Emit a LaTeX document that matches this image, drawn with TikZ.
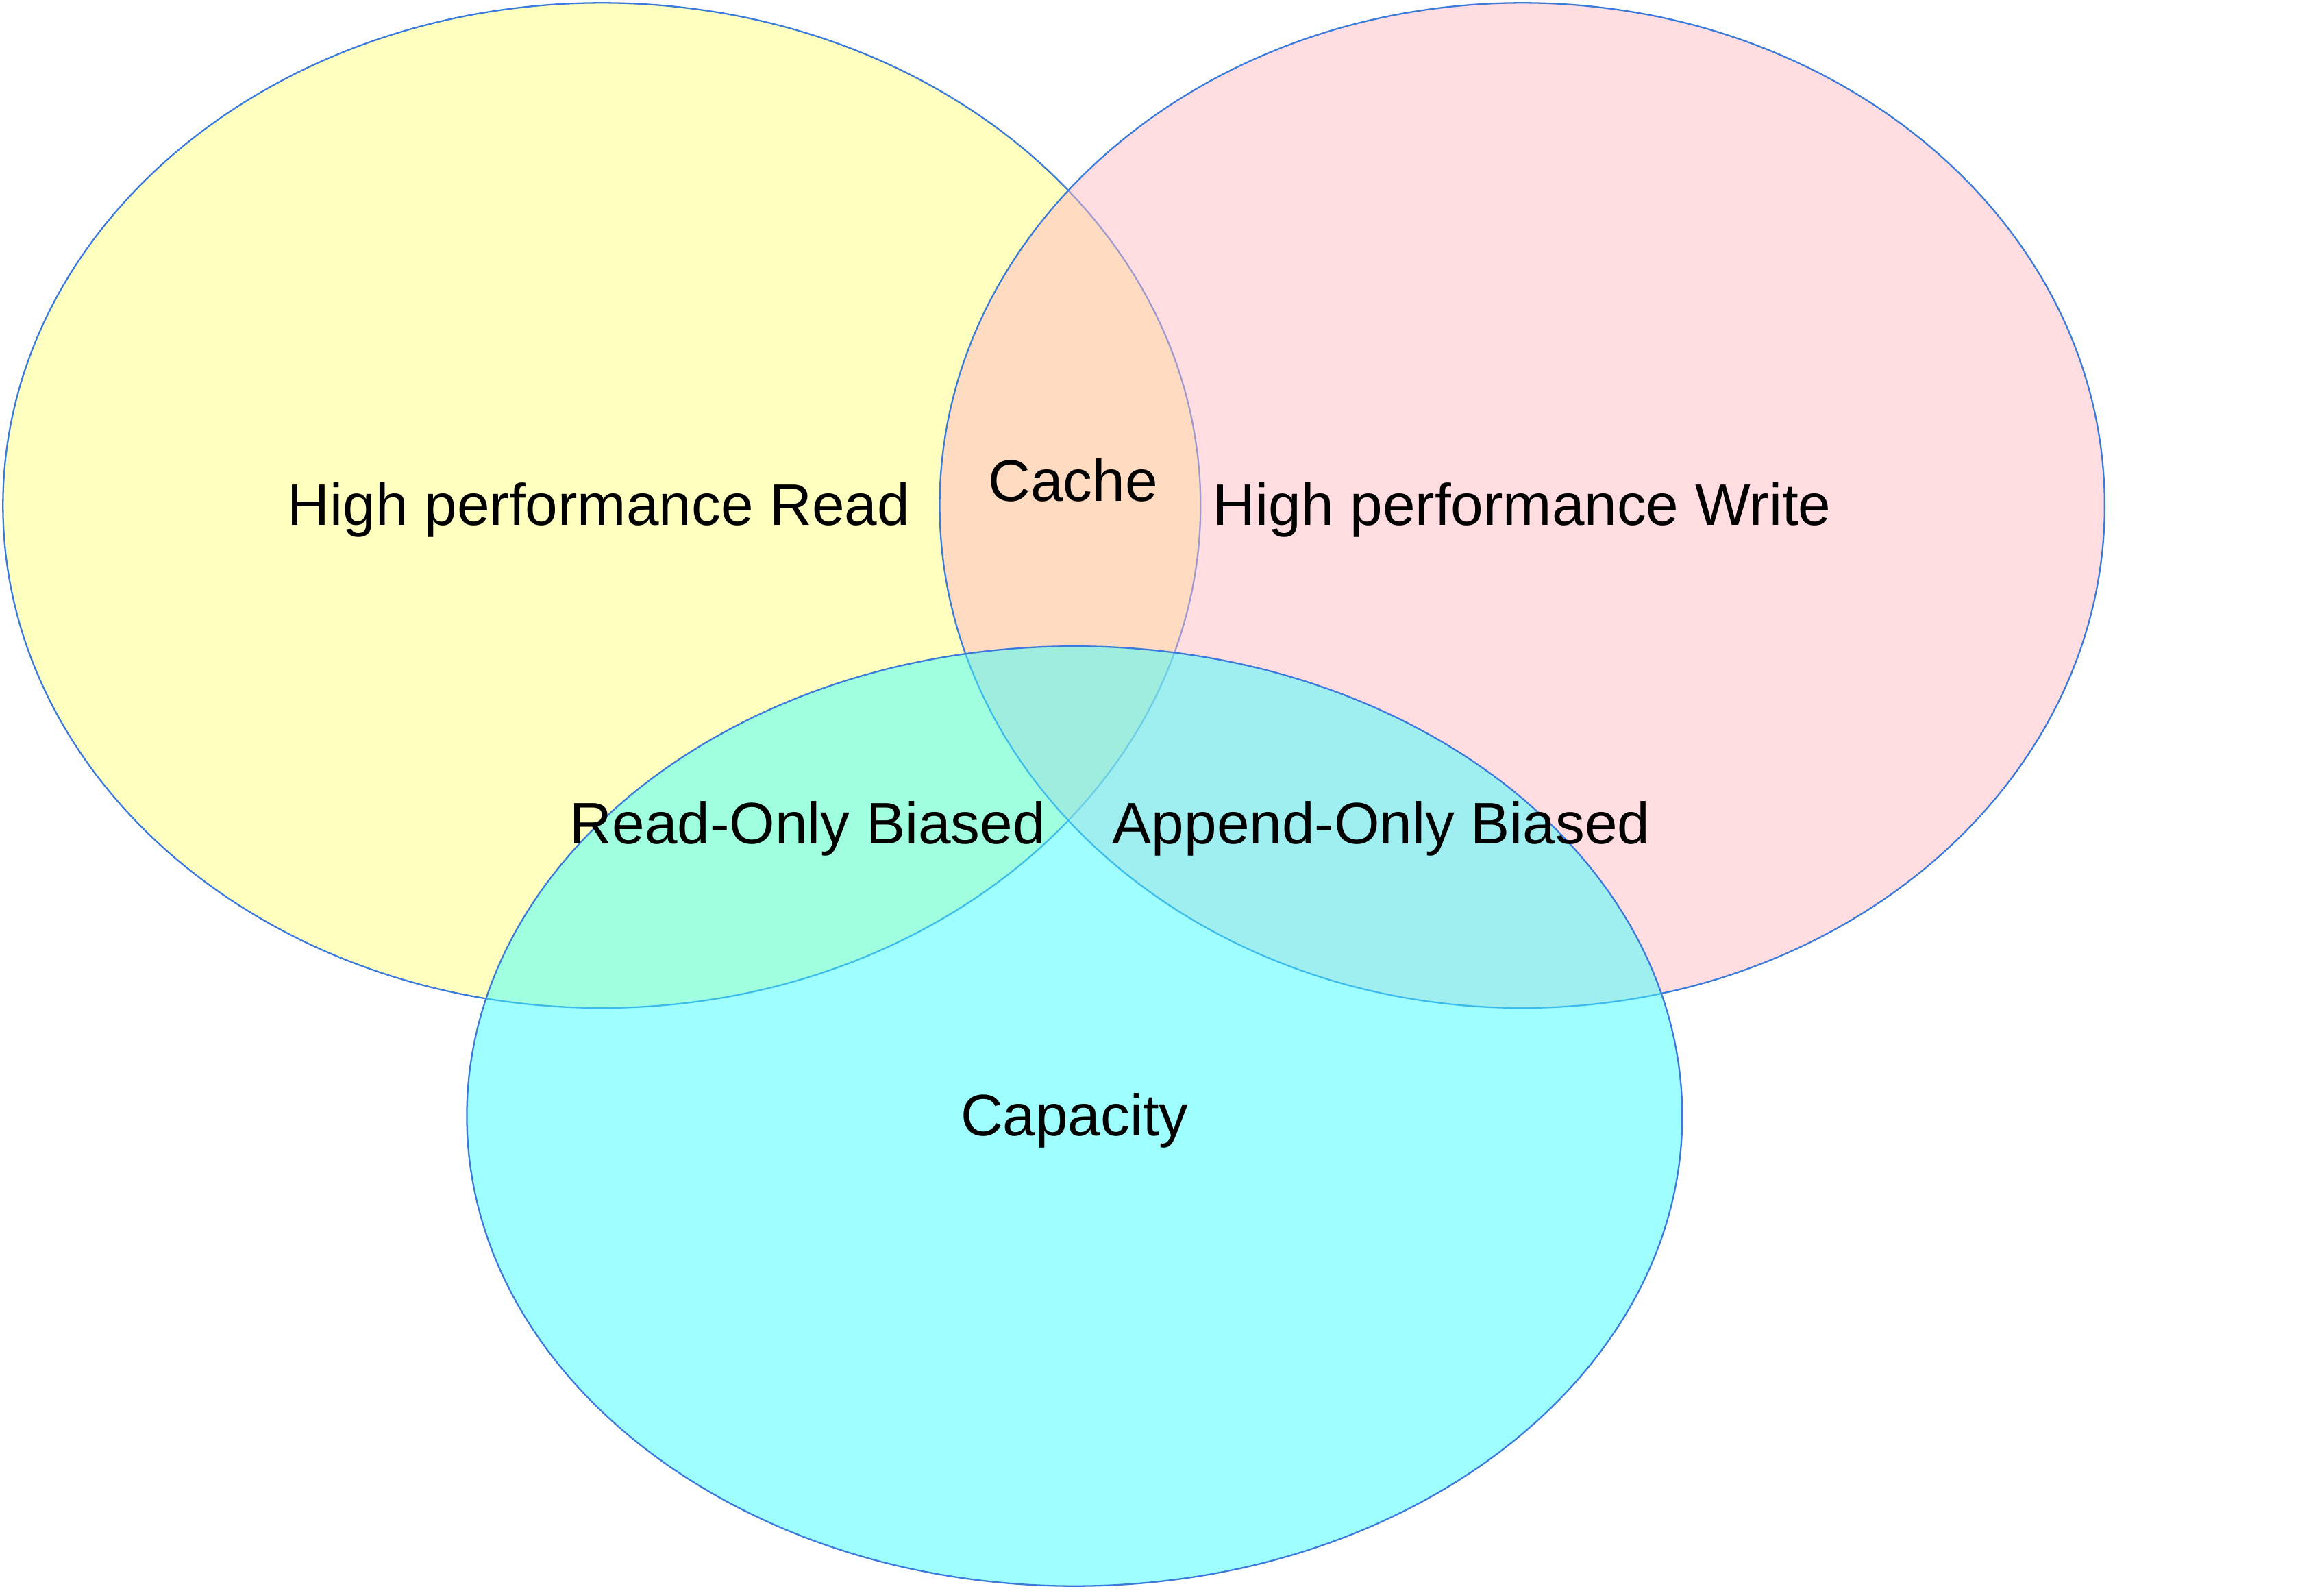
\documentclass[tikz,border=0pt]{standalone}
\usepackage{fontspec}
\setmainfont{Liberation Sans}
\usepackage{xcolor}
\definecolor{vnyellow}{RGB}{255,255,128}
\definecolor{vnpink}{RGB}{255,187,195}
\definecolor{vncyan}{RGB}{64,255,255}
\definecolor{vnline}{RGB}{58,122,218}
\usetikzlibrary{positioning,shapes.geometric}

\begin{document}
\begin{tikzpicture}[
    setbox/.style={ellipse, draw=vnline, line width=0.6pt, fill opacity=0.5,
                   inner sep=0pt},
    lbl/.style={font=\fontsize{22.5pt}{26pt}\selectfont, text=black, inner sep=0pt}
  ]
    \useasboundingbox (0,0) rectangle (31.36,-21.46);

    % the three sets
    \node[setbox, fill=vnyellow, minimum width=16.16cm, minimum height=13.56cm] (read) at (8.12, -6.82) {};
    \node[setbox, fill=vnpink,   minimum width=15.72cm, minimum height=13.56cm] (write) at (20.54, -6.82) {};
    \node[setbox, fill=vncyan,   minimum width=16.40cm, minimum height=12.68cm] (cap) at (14.50, -15.06) {};

    % region labels
    \node[lbl] (readlbl)  at (8.08, -6.88)   {High performance Read};
    \node[lbl] (writelbl) at (20.54, -6.88)  {High performance Write};
    \node[lbl] (caplbl)   at (14.50, -15.12) {Capacity};
    \node[lbl] (cachelbl) at (14.48, -6.48)  {Cache};
    \node[lbl] (rolbl)    at (10.90, -11.18) {Read-Only Biased};
    \node[lbl] (aolbl)    at (18.64, -11.18) {Append-Only Biased};
  \end{tikzpicture}
\end{document}
